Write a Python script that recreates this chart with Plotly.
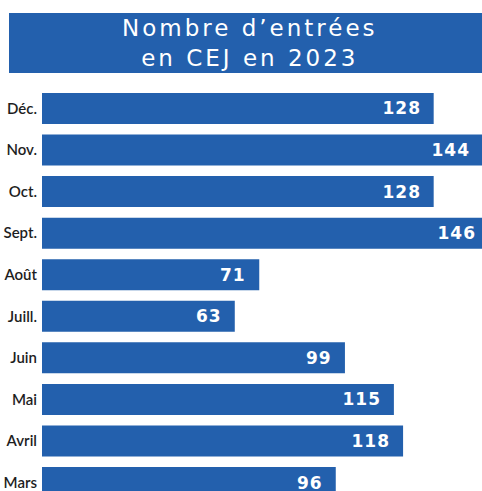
import plotly.graph_objects as go

months = ["Mars", "Avril", "Mai", "Juin", "Juill.", "Août", "Sept.", "Oct.", "Nov.", "Déc."]
entries = [96, 118, 115, 99, 63, 71, 146, 128, 144, 128]
title_lines = ["Nombre d’entrées", "en CEJ en 2023"]

BLUE = "#2360ad"
W, H = 500, 491          # figure wider than the window: right edge is cropped like the reference
ML, MT = 42, 88
PW, PH = W - ML, H - MT
PX_PER_UNIT = 3.06

fig = go.Figure(go.Bar(
    y=months, x=entries, orientation="h",
    marker=dict(color=BLUE, line=dict(width=0)),
    hoverinfo="skip",
))

for m, v in zip(months, entries):
    fig.add_annotation(
        x=v, y=m, xref="x", yref="y", text=str(v), showarrow=False,
        xanchor="right", xshift=-12,
        font=dict(family="DejaVu Sans", size=17, color="white", weight="bold"),
    )

def px_x(p):
    return (p - ML) / PW

def px_y(p):
    return (H - p) / PH

fig.add_shape(type="rect", xref="paper", yref="paper",
              x0=px_x(9), x1=px_x(W), y0=px_y(73), y1=px_y(13),
              fillcolor=BLUE, line=dict(width=0), layer="below")
fig.add_annotation(
    xref="paper", yref="paper", x=px_x(250), y=px_y(43),
    text="<br>".join(title_lines), showarrow=False,
    xanchor="center", yanchor="middle", align="center",
    font=dict(family="DejaVu Sans", size=23, color="white"),
)

fig.update_layout(
    width=W, height=H,
    margin=dict(l=ML, r=0, t=MT, b=0, pad=0),
    paper_bgcolor="white", plot_bgcolor="white",
    bargap=0.254,
    showlegend=False,
    xaxis=dict(range=[0, PW / PX_PER_UNIT], visible=False, fixedrange=True, automargin=False),
    yaxis=dict(
        type="category", range=[-0.2045, 9.493],
        showgrid=False, zeroline=False, showline=False, ticks="",
        ticklabelstandoff=4, automargin=False,
        tickfont=dict(family="Lato", size=15, color="#1e1e1e", weight=600),
        fixedrange=True,
    ),
)

post = """
document.body.style.margin = '0';
document.body.style.overflow = 'hidden';
document.querySelectorAll('.annotation-text').forEach(function(t){
  if (t.textContent.indexOf('Nombre') >= 0) { t.style.letterSpacing = '3px'; }
  else { t.style.letterSpacing = '1px'; }
});
"""
fig.write_html("out.html", post_script=post, config={"displayModeBar": False})
